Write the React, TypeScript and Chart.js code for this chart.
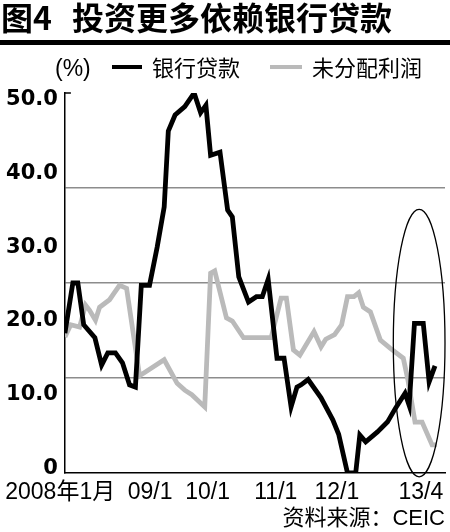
import React, { useEffect, useRef } from 'react';
import { Chart, registerables } from 'chart.js';

Chart.register(...registerables);

// Months counted from January 2008 (0 = 2008/01), values in %
const loanMonths = [0, 1.35, 2.2, 3.2, 5.1, 6.25, 7.3, 8.6, 9.8, 11.0, 12.0, 13.0, 14.4, 15.7, 16.9, 17.6, 18.75, 20.4, 22.0, 23.1, 24.0, 24.8, 26.4, 27.7, 28.5, 29.6, 31.25, 32.6, 33.6, 34.6, 36.1, 37.3, 38.5, 39.5, 40.2, 41.4, 43.6, 45.6, 46.6, 48.1, 49.5, 50.2, 51.2, 53.2, 54.9, 56.25, 57.9, 58.6, 59.5, 61.0, 62.0, 63.0];
const loanValues = [18.4, 25.0, 25.0, 19.5, 17.8, 14.2, 15.8, 15.8, 14.5, 11.6, 11.3, 24.7, 24.7, 29.7, 35.0, 45.0, 47.1, 48.2, 50.0, 47.4, 48.4, 41.8, 42.2, 34.6, 33.7, 25.8, 22.5, 23.2, 23.2, 25.5, 15.1, 15.1, 8.7, 11.3, 11.6, 12.3, 9.9, 7.0, 5.1, 0, 0, 5.0, 4.1, 5.4, 6.7, 8.5, 10.5, 8.9, 19.7, 19.7, 12.0, 14.1];

const profitMonths = [0, 1.0, 2.5, 3.5, 4.2, 5.2, 5.9, 7.6, 8.4, 9.3, 10.5, 12.7, 13.7, 16.9, 19.1, 20.4, 21.6, 23.8, 24.8, 25.5, 27.5, 28.5, 30.4, 35.1, 36.8, 37.7, 38.9, 40.0, 42.4, 43.6, 44.4, 45.9, 47.1, 48.1, 49.2, 50.0, 50.8, 52.0, 53.7, 55.4, 57.6, 58.4, 59.6, 60.8, 62.5, 63.3];
const profitValues = [17.9, 19.5, 19.2, 22.1, 21.4, 20.1, 21.8, 22.8, 23.7, 24.7, 24.3, 12.8, 13.3, 14.9, 11.8, 10.9, 10.3, 8.7, 26.3, 26.6, 20.4, 20.0, 17.8, 17.8, 23.0, 23.0, 16.2, 15.5, 18.6, 16.6, 17.6, 18.2, 19.5, 23.2, 23.2, 23.7, 21.8, 21.2, 17.5, 16.4, 15.1, 12.2, 6.7, 6.7, 3.7, 3.7];

const seriesNames = ['银行贷款', '未分配利润'];
const xTickPositions = [-0.8, 14.5, 24.3, 35.9, 46.3, 60.6];
const xTickLabels = ['2008年1月', '09/1', '10/1', '11/1', '12/1', '13/4'];
const yTickValues = [0, 10, 20, 30, 40, 50];
const yGridValues = [0, 12.5, 25, 37.5, 50];

// highlighted period (ellipse), centre and half-extents in data units
const highlightCentre = [60.3, 17.1];
const highlightHalf = [4.4, 17.6];

const LATIN_CJK = '"Liberation Sans", "Noto Sans CJK SC", sans-serif';
const CJK = '"Noto Sans CJK SC", sans-serif';

export default function App() {
  const ref = useRef<HTMLCanvasElement>(null);

  useEffect(() => {
    const canvas = ref.current;
    if (!canvas) return;

    const decor = {
      id: 'decor',
      afterDatasetsDraw(chart: any) {
        const { ctx, chartArea, scales } = chart;
        const xs = scales.x;
        const ys = scales.y;
        ctx.save();
        ctx.strokeStyle = '#000';
        ctx.lineWidth = 1.5;
        const topY = ys.getPixelForValue(50);
        ctx.beginPath();
        ctx.moveTo(chartArea.left, topY);
        ctx.lineTo(chartArea.left + 6, topY);
        ctx.stroke();

        const cx = xs.getPixelForValue(highlightCentre[0]);
        const cy = ys.getPixelForValue(highlightCentre[1]);
        const rx = Math.abs(xs.getPixelForValue(highlightCentre[0] + highlightHalf[0]) - cx);
        const ry = Math.abs(ys.getPixelForValue(highlightCentre[1] + highlightHalf[1]) - cy);
        ctx.lineWidth = 1.3;
        ctx.beginPath();
        ctx.ellipse(cx, cy, rx, ry, 0, 0, Math.PI * 2);
        ctx.stroke();
        ctx.restore();
      },
    };

    const chart = new Chart(canvas, {
      type: 'line',
      data: {
        datasets: [
          {
            label: seriesNames[0],
            data: loanMonths.map((m, i) => ({ x: m, y: loanValues[i] })),
            borderColor: '#000',
            borderWidth: 4.8,
            pointRadius: 0,
            tension: 0,
            xAxisID: 'x',
            yAxisID: 'y',
          },
          {
            label: seriesNames[1],
            data: profitMonths.map((m, i) => ({ x: m, y: profitValues[i] })),
            borderColor: '#bababa',
            borderWidth: 4.8,
            pointRadius: 0,
            tension: 0,
            xAxisID: 'x',
            yAxisID: 'y',
          },
        ],
      },
      options: {
        animation: false,
        responsive: false,
        layout: { padding: { top: 93, right: 5, bottom: 0, left: 0 } },
        plugins: {
          legend: { display: false },
          title: { display: false },
          tooltip: { enabled: false },
        },
        scales: {
          x: {
            type: 'linear',
            position: 'bottom',
            min: 0,
            max: 64.7,
            grid: { display: false, drawTicks: false },
            border: { display: true, color: '#000', width: 1.5 },
            ticks: {
              autoSkip: false,
              maxRotation: 0,
              padding: 6,
              color: '#000',
              font: { family: LATIN_CJK, size: 23 },
              callback: (v: any) => {
                const i = xTickPositions.indexOf(Number(v));
                return i >= 0 ? xTickLabels[i] : '';
              },
            },
            afterBuildTicks: (s: any) => {
              s.ticks = xTickPositions.map((v) => ({ value: v }));
            },
            afterFit: (s: any) => {
              s.height = 59;
            },
          },
          y: {
            type: 'linear',
            position: 'left',
            weight: 0,
            min: 0,
            max: 50,
            ticks: { display: false },
            grid: {
              drawTicks: false,
              lineWidth: 1.5,
              color: (c: any) =>
                c.tick && c.tick.value > 0 && c.tick.value < 50 ? '#8c8c8c' : 'rgba(0,0,0,0)',
            },
            border: { display: true, color: '#000', width: 1.5 },
            afterBuildTicks: (s: any) => {
              s.ticks = yGridValues.map((v) => ({ value: v }));
            },
            afterFit: (s: any) => {
              s.width = 0;
            },
          },
          yl: {
            type: 'linear',
            position: 'left',
            weight: 1,
            min: -0.61,
            max: 50.88,
            grid: { display: false, drawTicks: false },
            border: { display: false },
            ticks: {
              padding: 7,
              color: '#000',
              font: { family: '"DejaVu Sans", sans-serif', size: 21, weight: 'bold' },
              callback: (v: any) => (Number(v) === 0 ? '0' : Number(v).toFixed(1)),
            },
            afterBuildTicks: (s: any) => {
              s.ticks = yTickValues.map((v) => ({ value: v }));
            },
            afterFit: (s: any) => {
              s.width = 62;
            },
          },
        },
      } as any,
      plugins: [decor],
    });

    return () => chart.destroy();
  }, []);

  const abs = (o: React.CSSProperties): React.CSSProperties => ({ position: 'absolute', whiteSpace: 'pre', margin: 0, ...o });

  return (
    <div style={{ position: 'absolute', left: 0, top: 0, width: 450, height: 532, background: '#fff', overflow: 'hidden', color: '#000' }}>
      <canvas ref={ref} width={450} height={532} style={{ position: 'absolute', left: 0, top: 0, width: 450, height: 532, display: 'block' }} />
      <div style={abs({ left: 1, top: -2, fontFamily: CJK, fontSize: 32, fontWeight: 700, lineHeight: '36px' })}>图4</div>
      <div style={abs({ left: 72, top: -2, fontFamily: CJK, fontSize: 32, fontWeight: 700, lineHeight: '36px' })}>投资更多依赖银行贷款</div>
      <div style={abs({ left: 0, top: 40, width: 450, height: 5, background: '#000' })} />
      <div style={abs({ left: 55, top: 55, fontFamily: LATIN_CJK, fontSize: 23, lineHeight: '26px' })}>(%)</div>
      <div style={abs({ left: 112, top: 65, width: 30, height: 4, background: '#000' })} />
      <div style={abs({ left: 152, top: 53, fontFamily: CJK, fontSize: 22, lineHeight: '26px' })}>{seriesNames[0]}</div>
      <div style={abs({ left: 270, top: 65, width: 32, height: 4, background: '#bababa' })} />
      <div style={abs({ left: 312, top: 53, fontFamily: CJK, fontSize: 22, lineHeight: '26px' })}>{seriesNames[1]}</div>
      <div style={abs({ right: 5, top: 505, fontFamily: LATIN_CJK, fontSize: 22, lineHeight: '26px', textAlign: 'right' })}>资料来源：CEIC</div>
    </div>
  );
}
